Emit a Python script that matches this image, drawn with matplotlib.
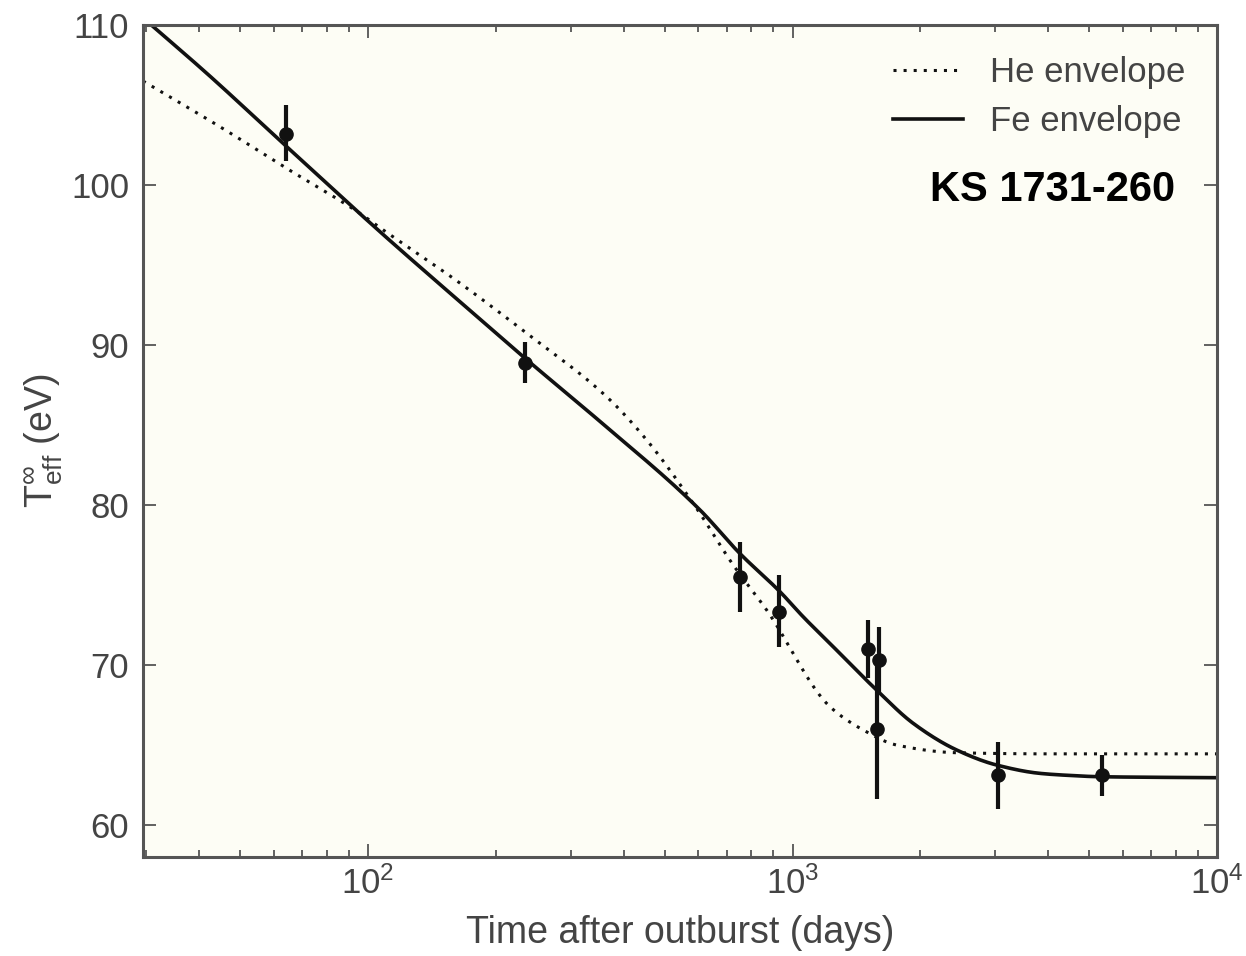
import matplotlib
matplotlib.use("Agg")
import matplotlib.pyplot as plt
import numpy as np
from matplotlib.ticker import LogLocator, NullFormatter

# observed cooling points (days since outburst, T_eff^inf in eV)
obs_t = [64.1, 234, 751, 931, 1503, 1601, 1578, 3056, 5346]
obs_T = [103.2, 88.9, 75.5, 73.3, 71.0, 70.3, 66.0, 63.1, 63.1]
obs_lo = [101.5, 87.6, 73.3, 71.1, 69.2, 68.3, 61.6, 61.0, 61.8]
obs_hi = [105.0, 90.2, 77.7, 75.6, 72.8, 72.4, 70.3, 65.2, 64.4]

# model curves
fe_t = [29.5, 41.7, 64.3, 106.7, 164.7, 234.4, 345.7, 605, 751, 934.5, 1061, 1225,
        1578, 1926, 2437, 3027, 3828, 4505, 5302, 10000]
fe_T = [110.45, 106.98, 102.4, 97.08, 92.7, 89.17, 85.4, 79.7, 76.98, 74.58, 73.0, 71.35,
        68.44, 66.35, 64.69, 63.75, 63.23, 63.1, 63.02, 62.96]

he_t = [29.5, 44.8, 64.3, 95.7, 108.6, 158.8, 236.6, 364.8, 453.5, 594, 725, 869,
        1225, 1468, 1759, 2437, 4000, 10000]
he_T = [106.5, 103.64, 101.04, 98.23, 97.19, 94.17, 90.73, 86.77, 84.06, 79.8, 76.25, 73.44,
        67.4, 65.94, 65.0, 64.52, 64.45, 64.45]

plt.rcParams["font.family"] = ["Liberation Sans", "DejaVu Sans"]
plt.rcParams["mathtext.default"] = "regular"


def smooth(t, T, n=600):
    # monotone cubic (Fritsch-Carlson) through the read points, in log-time
    x = np.log10(np.asarray(t, float))
    y = np.asarray(T, float)
    h = np.diff(x)
    d = np.diff(y) / h
    m = np.zeros_like(y)
    m[0], m[-1] = d[0], d[-1]
    for i in range(1, len(y) - 1):
        if d[i - 1] * d[i] <= 0:
            m[i] = 0.0
        else:
            w1 = 2 * h[i] + h[i - 1]
            w2 = h[i] + 2 * h[i - 1]
            m[i] = (w1 + w2) / (w1 / d[i - 1] + w2 / d[i])
    xs = np.linspace(x[0], x[-1], n)
    k = np.clip(np.searchsorted(x, xs) - 1, 0, len(h) - 1)
    s = (xs - x[k]) / h[k]
    h00 = 2 * s**3 - 3 * s**2 + 1
    h10 = s**3 - 2 * s**2 + s
    h01 = -2 * s**3 + 3 * s**2
    h11 = s**3 - s**2
    ys = h00 * y[k] + h10 * h[k] * m[k] + h01 * y[k + 1] + h11 * h[k] * m[k + 1]
    return 10 ** xs, ys


fig = plt.figure(figsize=(12.46, 9.56), dpi=100)
ax = fig.add_axes([0.1148, 0.1035, 0.8619, 0.8703])
ax.set_facecolor("#fdfdf5")

ht, hT = smooth(he_t, he_T)
ft, fT = smooth(fe_t, fe_T)
ax.plot(ht, hT, color="#111111", lw=2.2, linestyle=(0, (1, 2.3)), label="He envelope")
ax.plot(ft, fT, color="#111111", lw=2.6, label="Fe envelope")

yerr = np.array([np.array(obs_T) - np.array(obs_lo), np.array(obs_hi) - np.array(obs_T)])
ax.errorbar(obs_t, obs_T, yerr=yerr, fmt="o", color="#111111", ms=9.5, elinewidth=3,
            capsize=0, zorder=5)

ax.set_xscale("log")
ax.set_xlim(29.5, 1e4)
ax.set_ylim(58, 110)
ax.set_yticks([60, 70, 80, 90, 100, 110])
ax.xaxis.set_minor_locator(LogLocator(base=10, subs=np.arange(2, 10)))
ax.xaxis.set_minor_formatter(NullFormatter())

for s in ax.spines.values():
    s.set_color("#555555")
    s.set_linewidth(2.2)
ax.tick_params(which="both", direction="in", top=True, right=True, colors="#555555",
               labelcolor="#444444", labelsize=25, width=1.3)
ax.tick_params(which="major", length=9.5)
ax.tick_params(which="minor", length=5)
ax.tick_params(axis="x", pad=7)
ax.tick_params(axis="y", pad=10)

ax.set_xlabel("Time after outburst (days)", fontsize=27, color="#444444", labelpad=10)
ax.set_ylabel(r"T$_{eff}^{\infty}$ (eV)", fontsize=27, color="#444444", labelpad=4)

leg = ax.legend(loc="upper right", frameon=False, fontsize=25, handlelength=2.0,
                handletextpad=0.8, labelspacing=0.45, borderaxespad=0.5)
for txt in leg.get_texts():
    txt.set_color("#444444")

ax.text(0.961, 0.8017, "KS 1731-260", transform=ax.transAxes, ha="right", va="center",
        fontsize=30, fontweight="bold", color="black")

fig.savefig("out.png", dpi=100)
